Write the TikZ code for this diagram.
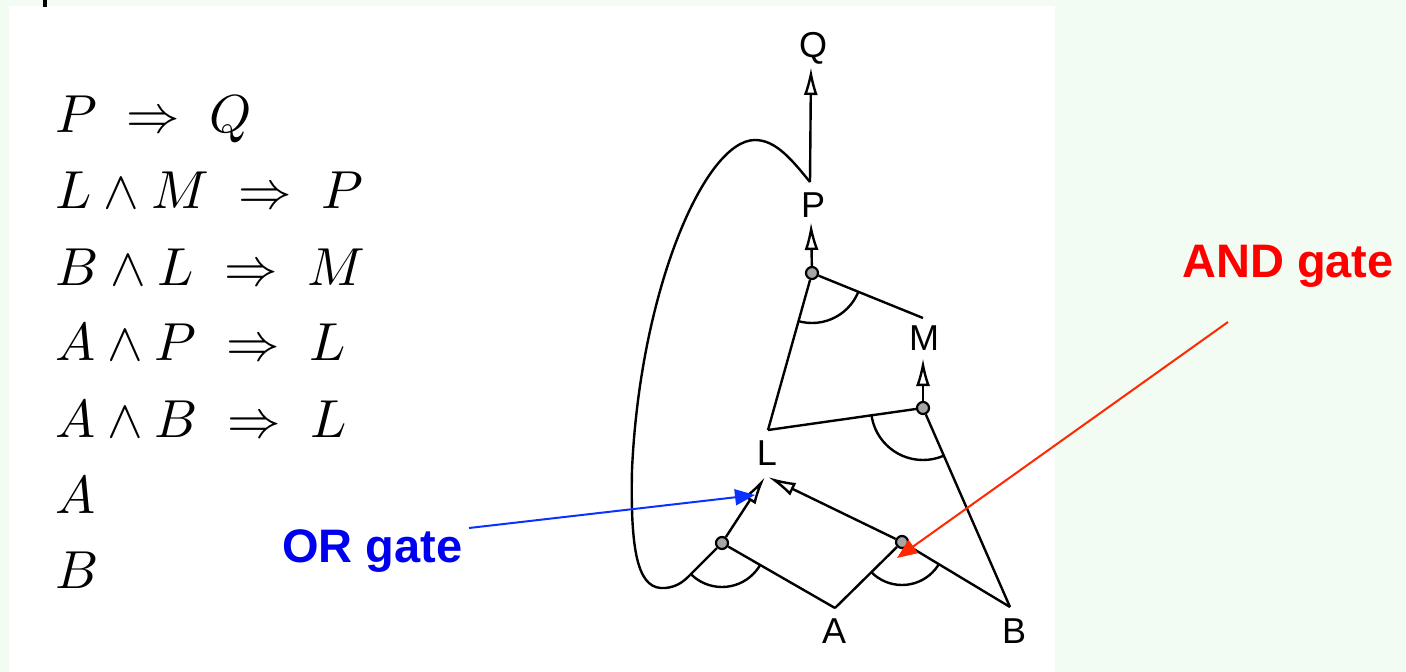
\documentclass[tikz,border=0pt]{standalone}
\usepackage{graphicx}
\usepackage{fontspec}
\newfontfamily\lsans{Liberation Sans}
\usetikzlibrary{arrows.meta,calc}
\definecolor{bg}{RGB}{242,252,242}
\definecolor{gateblue}{RGB}{0,0,240}
\definecolor{bluearr}{RGB}{10,50,255}
\definecolor{redarr}{RGB}{255,40,0}
\newcommand{\bigrule}[1]{\scalebox{5.35}{$#1$}}
\begin{document}
\begin{tikzpicture}[x=1pt,y=-1pt,line join=round,
  wire/.style={line width=2.4pt,black},
  arr/.style={wire,-{Latex[open,length=28pt,width=14pt,line width=2.4pt]}},
  gate/.style={circle,draw,line width=2.2pt,minimum size=12pt,inner sep=0pt,fill=black!35},
  lab/.style={font=\fontsize{36}{36}\selectfont\lsans,anchor=base,inner sep=0pt},
  rule/.style={anchor=base west,inner sep=0pt},
  note/.style={font=\fontsize{47}{47}\selectfont\lsans\bfseries,anchor=base west,inner sep=0pt}]
\useasboundingbox (0,0) rectangle (1406,672);
\fill[bg] (0,0) rectangle (1406,672);
\fill[white] (9,6) rectangle (1055,672);
\fill[black] (43,0) rectangle (47,7);

% rules
\node[rule] (r1) at (55,132) {\bigrule{P \;\Rightarrow\; Q}};
\node[rule] (r2) at (55,208) {\bigrule{L \wedge M \;\Rightarrow\; P}};
\node[rule] (r3) at (55,285) {\bigrule{B \wedge L \;\Rightarrow\; M}};
\node[rule] (r4) at (55,360) {\bigrule{A \wedge P \;\Rightarrow\; L}};
\node[rule] (r5) at (55,437) {\bigrule{A \wedge B \;\Rightarrow\; L}};
\node[rule] (r6) at (55,513) {\bigrule{A}};
\node[rule] (r7) at (55,588) {\bigrule{B}};

% labels
\node[lab] (nQ) at (813,57) {Q};
\node[lab] (nP) at (813,217) {P};
\node[lab] (nM) at (924,350) {M};
\node[lab] (nL) at (767,465) {L};
\node[lab] (nA) at (834,643) {A};
\node[lab] (nB) at (1014,643) {B};

% connection points
\coordinate (Qin) at (811,67);
\coordinate (Pout) at (810,182);
\coordinate (Pin) at (811,222);
\coordinate (Min) at (923,358);
\coordinate (Mtop) at (923,318);
\coordinate (Lin1) at (765,477);
\coordinate (Lin2) at (768,477);
\coordinate (Lc) at (768,430);
\coordinate (Aout) at (835,608);
\coordinate (Bout) at (1010,607);
\coordinate (loopend) at (690,575);

% gates
\node[gate] (gP) at (812,273) {};
\node[gate] (gM) at (923,408) {};
\node[gate] (gL1) at (722,543) {};
\node[gate] (gL2) at (902,542) {};

% wires
\draw[arr] (Pout) -- (Qin);
\draw[wire] (Pout) .. controls (792,160) and (776,140) .. (755,140)
  .. controls (705,140) and (640,290) .. (632,470)
  .. controls (630,560) and (640,590) .. (665,588)
  .. controls (678,587) and (685,580) .. (loopend);
\draw[arr] (gP) -- (Pin);
\draw[wire] (gP) -- (Lc);
\draw[wire] (gP) -- (Mtop);
\draw[arr] (gM) -- (Min);
\draw[wire] (gM) -- (Lc);
\draw[wire] (gM) -- (Bout);
\draw[arr] (gL1) -- (Lin1);
\draw[wire] (gL1) -- (loopend);
\draw[wire] (gL1) -- (Aout);
\draw[arr] (gL2) -- (Lin2);
\draw[wire] (gL2) -- (Aout);
\draw[wire] (gL2) -- (Bout);

% AND arcs
\begin{scope}
\clip (gP.center) -- ($(gP.center)!3!(Lc)$) -- ($(gP.center)!3!(Mtop)$) -- cycle;
\draw[wire] (gP.center) circle[radius=50];
\end{scope}
\begin{scope}
\clip (gM.center) -- ($(gM.center)!3!(Lc)$) -- ($(gM.center)!3!(Bout)$) -- cycle;
\draw[wire] (gM.center) circle[radius=52];
\end{scope}
\begin{scope}
\clip (gL1.center) -- ($(gL1.center)!4!(loopend)$) -- ($(gL1.center)!4!(Aout)$) -- cycle;
\draw[wire] (gL1.center) circle[radius=44];
\end{scope}
\begin{scope}
\clip (gL2.center) -- ($(gL2.center)!4!(Aout)$) -- ($(gL2.center)!4!(Bout)$) -- cycle;
\draw[wire] (gL2.center) circle[radius=43];
\end{scope}

% annotations
\node[note,text=gateblue] (orl) at (282,562) {OR gate};
\node[note,text=red] (andl) at (1182,277) {AND gate};
\coordinate (orstart) at (469,528);
\coordinate (ortip) at (755,495);
\coordinate (andstart) at (1228,322);
\coordinate (andtip) at (897,558);
\draw[bluearr,line width=2pt,-{Triangle[length=20pt,width=16pt]}] (orstart) -- (ortip);
\draw[redarr,line width=2pt,-{Triangle[length=20pt,width=16pt]}] (andstart) -- (andtip);
\end{tikzpicture}
\end{document}
